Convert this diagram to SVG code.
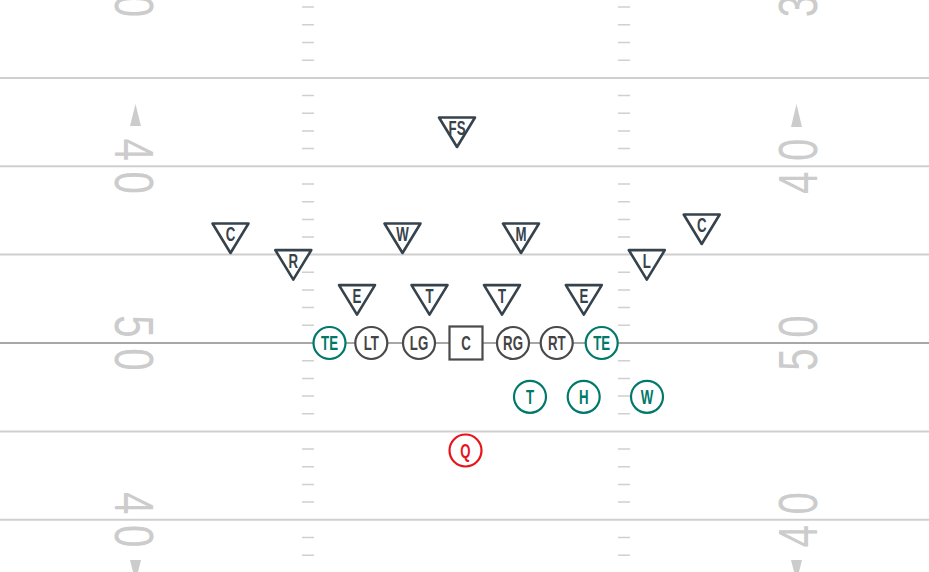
<svg xmlns="http://www.w3.org/2000/svg" xmlns:xlink="http://www.w3.org/1999/xlink" width="929" height="572" viewBox="0 0 929 572">
<defs>
<style>
.yl{stroke:#cfcfcf;stroke-width:2;fill:none}
.los{stroke:#8a8a8a;stroke-width:1.6;fill:none}
.hash{stroke:#d0d0d0;stroke-width:1.5;fill:none}
.num{font-family:"Liberation Sans",Arial,sans-serif;font-size:56px;fill:#cccccc;text-anchor:middle}
.arr{fill:#cccccc}
.tri{fill:#ffffff;stroke:#37434c;stroke-width:2.6;stroke-linejoin:round}
.ol{fill:#ffffff;stroke:#4a4a4a;stroke-width:2.2}
.sk{fill:#ffffff;stroke:#00796b;stroke-width:2.2}
.qb{fill:#ffffff;stroke:#e8141c;stroke-width:2.2}
.lbl{font-family:"Liberation Sans",Arial,sans-serif;font-weight:bold;font-size:19.5px;text-anchor:middle}
.dl{fill:#37434c}
.olt{fill:#444444}
.skt{fill:#00796b}
.qbt{fill:#e8141c}
</style>
<path id="tri" d="M-18,1.5 L18,1.5 L0,31 Z"/>
</defs>
<rect x="0" y="0" width="929" height="572" fill="#ffffff"/>
<g id="field">
<g id="yardlines">
<line class="yl" x1="0" y1="78" x2="929" y2="78"/>
<line class="yl" x1="0" y1="166.2" x2="929" y2="166.2"/>
<line class="yl" x1="0" y1="254.6" x2="929" y2="254.6"/>
<line class="yl" x1="0" y1="431.4" x2="929" y2="431.4"/>
<line class="yl" x1="0" y1="519.8" x2="929" y2="519.8"/>
<line class="los" x1="0" y1="343" x2="929" y2="343"/>
</g>
<g id="hashes">
<path class="hash" d="M302,7.1h12M302,24.8h12M302,42.5h12M302,60.2h12M302,95.6h12M302,113.3h12M302,131h12M302,148.6h12M302,184h12M302,201.7h12M302,219.4h12M302,237.1h12M302,272.3h12M302,290h12M302,307.6h12M302,325.3h12M302,360.7h12M302,378.4h12M302,396h12M302,413.7h12M302,449.1h12M302,466.8h12M302,484.4h12M302,502.1h12M302,537.5h12M302,555.2h12"/>
<path class="hash" d="M618,7.1h12M618,24.8h12M618,42.5h12M618,60.2h12M618,95.6h12M618,113.3h12M618,131h12M618,148.6h12M618,184h12M618,201.7h12M618,219.4h12M618,237.1h12M618,272.3h12M618,290h12M618,307.6h12M618,325.3h12M618,360.7h12M618,378.4h12M618,396h12M618,413.7h12M618,449.1h12M618,466.8h12M618,484.4h12M618,502.1h12M618,537.5h12M618,555.2h12"/>
</g>
<g id="numbers-left">
<text class="num" transform="translate(135,-27) rotate(90) scale(0.72,1)" x="0" y="20">3</text>
<text class="num" transform="translate(135,6) rotate(90) scale(0.72,1)" x="0" y="20">0</text>
<text class="num" transform="translate(135,149.7) rotate(90) scale(0.72,1)" x="0" y="20">4</text>
<text class="num" transform="translate(135,182.7) rotate(90) scale(0.72,1)" x="0" y="20">0</text>
<text class="num" transform="translate(135,326.5) rotate(90) scale(0.72,1)" x="0" y="20">5</text>
<text class="num" transform="translate(135,359.5) rotate(90) scale(0.72,1)" x="0" y="20">0</text>
<text class="num" transform="translate(135,503.3) rotate(90) scale(0.72,1)" x="0" y="20">4</text>
<text class="num" transform="translate(135,536.3) rotate(90) scale(0.72,1)" x="0" y="20">0</text>
<polygon class="arr" points="135.5,104 130,126 141,126"/>
<polygon class="arr" points="130,560 141,560 135.5,582"/>
</g>
<g id="numbers-right">
<text class="num" transform="translate(797,6) rotate(-90) scale(0.72,1)" x="0" y="20">3</text>
<text class="num" transform="translate(797,-27) rotate(-90) scale(0.72,1)" x="0" y="20">0</text>
<text class="num" transform="translate(797,182.7) rotate(-90) scale(0.72,1)" x="0" y="20">4</text>
<text class="num" transform="translate(797,149.7) rotate(-90) scale(0.72,1)" x="0" y="20">0</text>
<text class="num" transform="translate(797,359.5) rotate(-90) scale(0.72,1)" x="0" y="20">5</text>
<text class="num" transform="translate(797,326.5) rotate(-90) scale(0.72,1)" x="0" y="20">0</text>
<text class="num" transform="translate(797,536.3) rotate(-90) scale(0.72,1)" x="0" y="20">4</text>
<text class="num" transform="translate(797,503.3) rotate(-90) scale(0.72,1)" x="0" y="20">0</text>
<polygon class="arr" points="796.5,104 791,127 802,127"/>
<polygon class="arr" points="791,560 802,560 796.5,582"/>
</g>
</g>
<g id="connectors"></g>
<g id="defense">
<g id="d-FS"><use href="#tri" class="tri" x="457" y="116"/><text class="lbl dl" transform="translate(457,135) scale(0.68,1)">FS</text></g>
<g id="d-C-left"><use href="#tri" class="tri" x="230.5" y="222"/><text class="lbl dl" transform="translate(230.5,241) scale(0.68,1)">C</text></g>
<g id="d-W"><use href="#tri" class="tri" x="402.5" y="222"/><text class="lbl dl" transform="translate(402.5,241) scale(0.68,1)">W</text></g>
<g id="d-M"><use href="#tri" class="tri" x="521" y="222"/><text class="lbl dl" transform="translate(521,241) scale(0.68,1)">M</text></g>
<g id="d-C-right"><use href="#tri" class="tri" x="701.7" y="213"/><text class="lbl dl" transform="translate(701.7,232) scale(0.68,1)">C</text></g>
<g id="d-R"><use href="#tri" class="tri" x="293.3" y="248.6"/><text class="lbl dl" transform="translate(293.3,267.6) scale(0.68,1)">R</text></g>
<g id="d-L"><use href="#tri" class="tri" x="646.8" y="248.6"/><text class="lbl dl" transform="translate(646.8,267.6) scale(0.68,1)">L</text></g>
<g id="d-E-left"><use href="#tri" class="tri" x="357" y="283.6"/><text class="lbl dl" transform="translate(357,302.6) scale(0.68,1)">E</text></g>
<g id="d-T-left"><use href="#tri" class="tri" x="429.5" y="283.6"/><text class="lbl dl" transform="translate(429.5,302.6) scale(0.68,1)">T</text></g>
<g id="d-T-right"><use href="#tri" class="tri" x="502" y="283.6"/><text class="lbl dl" transform="translate(502,302.6) scale(0.68,1)">T</text></g>
<g id="d-E-right"><use href="#tri" class="tri" x="583.8" y="283.6"/><text class="lbl dl" transform="translate(583.8,302.6) scale(0.68,1)">E</text></g>
</g>
<g id="offense">
<g id="o-TE-left"><circle class="sk" cx="329.5" cy="343" r="16"/><text class="lbl skt" transform="translate(329.5,350) scale(0.68,1)">TE</text></g>
<g id="o-LT"><circle class="ol" cx="371.3" cy="343" r="16"/><text class="lbl olt" transform="translate(371.3,350) scale(0.68,1)">LT</text></g>
<g id="o-LG"><circle class="ol" cx="419" cy="343" r="16"/><text class="lbl olt" transform="translate(419,350) scale(0.68,1)">LG</text></g>
<g id="o-C"><rect class="ol" x="449.5" y="326.5" width="33" height="33"/><text class="lbl olt" transform="translate(466,350) scale(0.68,1)">C</text></g>
<g id="o-RG"><circle class="ol" cx="513" cy="343" r="16"/><text class="lbl olt" transform="translate(513,350) scale(0.68,1)">RG</text></g>
<g id="o-RT"><circle class="ol" cx="556.7" cy="343" r="16"/><text class="lbl olt" transform="translate(556.7,350) scale(0.68,1)">RT</text></g>
<g id="o-TE-right"><circle class="sk" cx="601.7" cy="343" r="16"/><text class="lbl skt" transform="translate(601.7,350) scale(0.68,1)">TE</text></g>
<g id="o-T"><circle class="sk" cx="530" cy="396.8" r="16"/><text class="lbl skt" transform="translate(530,403.8) scale(0.68,1)">T</text></g>
<g id="o-H"><circle class="sk" cx="583.7" cy="396.8" r="16"/><text class="lbl skt" transform="translate(583.7,403.8) scale(0.68,1)">H</text></g>
<g id="o-W"><circle class="sk" cx="647" cy="396.8" r="16"/><text class="lbl skt" transform="translate(647,403.8) scale(0.68,1)">W</text></g>
<g id="o-Q"><circle class="qb" cx="465.5" cy="450.5" r="16"/><text class="lbl qbt" transform="translate(465.5,457.5) scale(0.68,1)">Q</text></g>
</g>
</svg>
